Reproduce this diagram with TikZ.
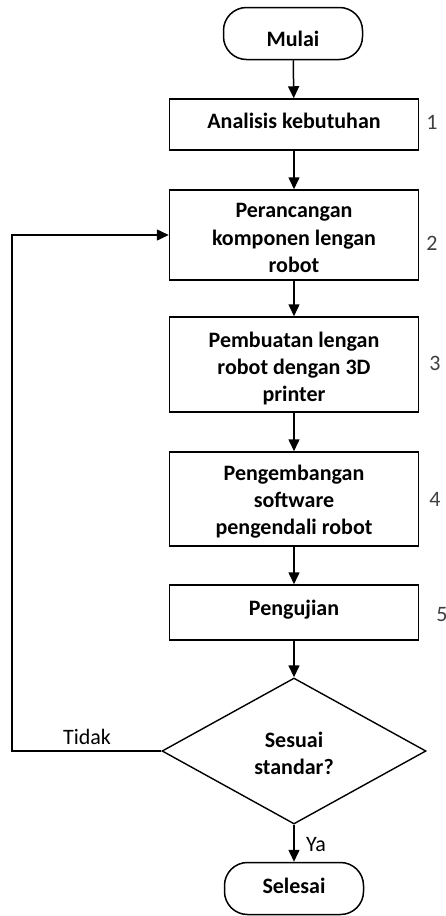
\documentclass[tikz,border=0pt]{standalone}
\usepackage{fontspec}
\setmainfont{Carlito}
\usetikzlibrary{arrows.meta,shapes.geometric}
\begin{document}
\begin{tikzpicture}[x=1pt,y=-1pt,
  boxtxt/.style={font=\bfseries\fontsize{22}{27.3}\selectfont,align=center,inner sep=0pt,anchor=base},
  stepbox/.style={draw,line width=1.5pt,minimum width=249pt,inner sep=0pt},
  term/.style={draw,line width=1.5pt,rounded corners=23pt,minimum width=139pt,minimum height=52pt,inner sep=0pt},
  dec/.style={draw,diamond,line width=1.4pt,minimum width=264pt,minimum height=146pt,inner sep=0pt},
  num/.style={font=\fontsize{22}{27}\selectfont,text=black!75,inner sep=0pt,anchor=base},
  lbl/.style={font=\fontsize{22}{27}\selectfont,inner sep=0pt,anchor=base},
  arr/.style={line width=1.5pt,-{Triangle[length=12pt,width=11pt]}}
]
\useasboundingbox (0,0) rectangle (446,916);

% shapes
\node[term] (start) at (293,33.5) {};
\node[stepbox,minimum height=51pt] (b1) at (294,124.5) {};
\node[stepbox,minimum height=90pt] (b2) at (294,235) {};
\node[stepbox,minimum height=95pt] (b3) at (294,364.5) {};
\node[stepbox,minimum height=94pt] (b4) at (294,499) {};
\node[stepbox,minimum height=55pt] (b5) at (294,612.5) {};
\node[dec] (d) at (294,751) {};
\node[term] (end) at (294,888.5) {};

% texts (anchored at the baseline of their last line)
\node[boxtxt] (tstart) at (293,46.7) {Mulai};
\node[boxtxt] (t1) at (294,128) {Analisis kebutuhan};
\node[boxtxt] (t2) at (294,272.3) {Perancangan\\komponen lengan\\robot};
\node[boxtxt] (t3) at (294,401.6) {Pembuatan lengan\\robot dengan 3D\\printer};
\node[boxtxt] (t4) at (294,534.6) {Pengembangan\\software\\pengendali robot};
\node[boxtxt] (t5) at (294,615) {Pengujian};
\node[boxtxt] (td) at (294,774.3) {Sesuai\\standar?};
\node[boxtxt] (tend) at (294,893) {Selesai};

\node[num] (n1) at (432,129) {1};
\node[num] (n2) at (432,250.5) {2};
\node[num] (n3) at (435,370) {3};
\node[num] (n4) at (435,506.5) {4};
\node[num] (n5) at (442,621.5) {5};

\coordinate (fb) at (12,751);

\draw[arr] (start) -- (b1);
\draw[arr] (b1) -- (b2);
\draw[arr] (b2) -- (b3);
\draw[arr] (b3) -- (b4);
\draw[arr] (b4) -- (b5);
\draw[arr] (b5) -- (d);
\draw[arr] (d) -- (end);
\draw[arr] (d.west) -- (fb) |- (b2.west);
\node[lbl] (ya) at (316,851) {Ya};
\node[lbl] (tidak) at (87,744) {Tidak};
\end{tikzpicture}
\end{document}
